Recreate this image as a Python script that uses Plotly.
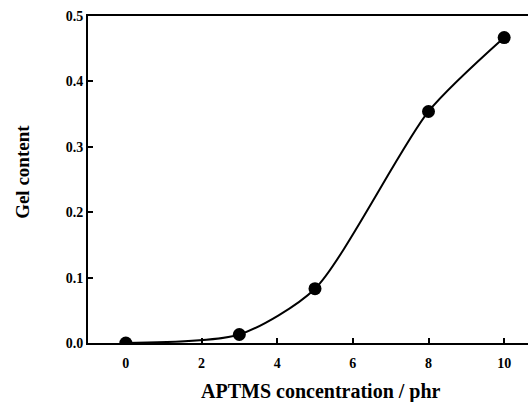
import plotly.graph_objects as go

aptms = [0, 3, 5, 8, 10]
gel = [0.0, 0.013, 0.083, 0.354, 0.467]

x_ticks = [0, 2, 4, 6, 8, 10]
y_ticks = [0.0, 0.1, 0.2, 0.3, 0.4, 0.5]

fig = go.Figure(go.Scatter(x=aptms, y=gel, mode="lines+markers",
                           line=dict(color="black", width=2, shape="spline", smoothing=0.7),
                           marker=dict(color="black", size=13), showlegend=False))

serif = "Liberation Serif, Times New Roman, serif"
fig.update_layout(
    width=528, height=402,
    margin=dict(l=88, r=0, t=16, b=59),
    plot_bgcolor="white", paper_bgcolor="white",
    font=dict(family=serif, size=14, color="black"),
    xaxis=dict(range=[-1, 10.63], tickvals=x_ticks, ticktext=["<b>%d</b>" % v for v in x_ticks],
               ticks="inside", ticklen=5, tickwidth=1.5, tickcolor="black",
               showline=True, linecolor="black", linewidth=2, mirror=True,
               showgrid=False, zeroline=False, automargin=False, ticklabelstandoff=6,
               tickfont=dict(family=serif, size=14)),
    yaxis=dict(range=[0, 0.5], tickvals=y_ticks, ticktext=["<b>%.1f</b>" % v for v in y_ticks],
               ticks="inside", ticklen=5, tickwidth=1.5, tickcolor="black",
               showline=True, linecolor="black", linewidth=2, mirror=False,
               showgrid=False, zeroline=False, automargin=False,
               tickfont=dict(family=serif, size=14)),
)

# axis titles as annotations (the original x title is centred on an uncropped, wider frame)
fig.add_annotation(text="<b>APTMS concentration / phr</b>", xref="paper", yref="paper",
                   x=0.53, y=-0.147, xanchor="center", yanchor="middle", showarrow=False,
                   font=dict(family=serif, size=20))
fig.add_annotation(text="<b>Gel content</b>", xref="paper", yref="paper",
                   x=-0.148, y=0.523, xanchor="center", yanchor="middle", showarrow=False,
                   textangle=-90, font=dict(family=serif, size=19))

fig.write_html("out.html", config={"displayModeBar": False},
               post_script="document.body.style.margin='0';")
